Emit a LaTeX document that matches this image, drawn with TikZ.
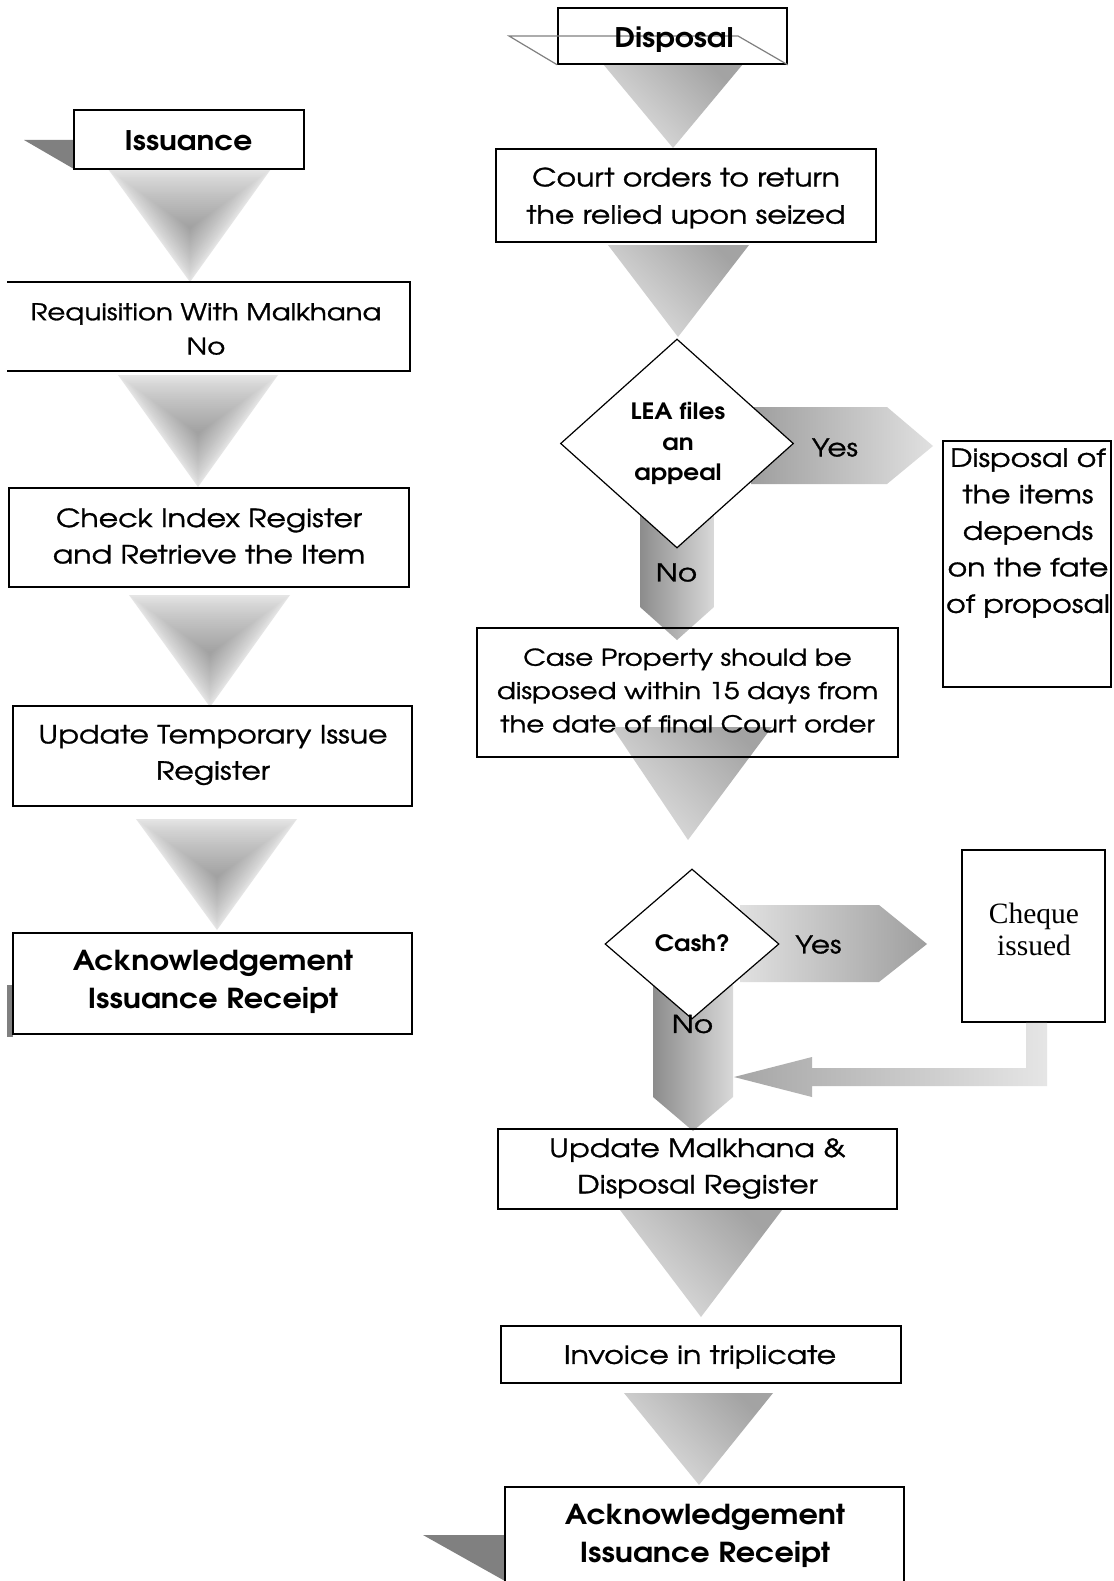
\documentclass[tikz,border=0pt]{standalone}
\usepackage{fontspec}
\setmainfont{texgyreadventor}[Extension=.otf, UprightFont=*-regular, BoldFont=*-bold, UprightFeatures={FakeStretch=1.2, FakeBold=1.2}, BoldFeatures={FakeStretch=1.1}]
\newfontfamily\tnr{Liberation Serif}
\usetikzlibrary{shapes.geometric}
\newcommand{\pathtri}[5]{%
  \pgfmathsetmacro\mycy{#3+0.52*(#5-#3)}%
  \foreach \i in {0,...,29}{%
    \pgfmathsetmacro\mysc{1-\i/30}%
    \pgfmathsetmacro\myval{10+27*(\i/30)^0.8}%
    \fill[black!\myval] ({#4+\mysc*(#1-#4)},{\mycy+\mysc*(#3-\mycy)}) -- ({#4+\mysc*(#2-#4)},{\mycy+\mysc*(#3-\mycy)}) -- ({#4},{\mycy+\mysc*(#5-\mycy)}) -- cycle;
  }}
\newcommand{\fs}[2]{\fontsize{#1}{#2}\selectfont}
\tikzset{
  box/.style={draw=black, line width=1.6pt, inner sep=0pt},
  txt/.style={align=center, inner sep=0pt},
  dec/.style={diamond, draw=black, line width=1.2pt, fill=white, inner sep=0pt},
  lintri/.style={shading=axis, top color=black!36, bottom color=black!12, shading angle=-45},
  lbl/.style={font=\fs{24.5}{30}, inner sep=0pt},
  shadowc/.style={fill=black!50}
}
\begin{document}
\begin{tikzpicture}[x=1pt,y=-1pt]
\useasboundingbox (0,0) rectangle (1113,1581);
\clip (0,0) rectangle (1113,1581);
\fill[white] (0,0) rectangle (1113,1581);

% ---------- left column ----------
\fill[shadowc] (24,140) -- (74,140) -- (74,169) -- cycle;
\fill[shadowc] (7,985) rectangle (13,1037);
\pathtri{108}{271}{169}{190}{282}
\pathtri{118}{278}{375}{198}{487}
\pathtri{129}{290}{595}{210}{707}
\pathtri{136}{297}{819}{217}{930}

\node[box, fill=white, minimum width=230, minimum height=59] (iss) at (189,139.5) {};
\node[txt, font=\fs{27}{30}\bfseries] (isst) at (188.5,141) {Issuance};
\node[box, draw=none, minimum width=401, minimum height=87] (req) at (208.5,326.5) {};
\draw[line width=1.6pt] (req.north west) -- (req.north east) -- (req.south east) -- (req.south west);
\node[txt, font=\fs{23}{34.3}] (reqt) at (206,329) {Requisition With Malkhana\\No};
\node[box, minimum width=400, minimum height=99] (chk) at (209,537.5) {};
\node[txt, font=\fs{25}{36.3}] (chkt) at (209,536) {Check Index Register\\and Retrieve the Item};
\node[box, minimum width=399, minimum height=100] (utmp) at (212.5,756) {};
\node[txt, font=\fs{25}{36.3}] (utmpt) at (213,755) {Update Temporary Issue\\Register};
\node[box, minimum width=399, minimum height=101] (ackl) at (212.5,983.5) {};
\node[txt, font=\fs{27.5}{37.3}\bfseries] (acklt) at (213,982) {Acknowledgement\\Issuance Receipt};

% ---------- right column ----------
\shade[lintri] (603,64) -- (743,64) -- (673,148) -- cycle;
\shade[lintri] (608,245) -- (749,245) -- (678,337) -- cycle;
\shade[lintri] (612,727) -- (772,727) -- (688,840) -- cycle;
\shade[lintri] (620,1210) -- (782,1210) -- (701,1317) -- cycle;
\shade[lintri] (624,1393) -- (773,1393) -- (699,1485) -- cycle;
\fill[shadowc] (423,1535) -- (505,1535) -- (505,1581) -- cycle;

% arrows
\shade[left color=black!38, right color=black!12] (751,407) -- (887,407) -- (933,446) -- (887,484) -- (751,484) -- cycle;
\shade[left color=black!45, right color=black!15] (640,495) -- (714,495) -- (714,607) -- (677,640) -- (640,607) -- cycle;
\shade[left color=black!12, right color=black!38] (740,905) -- (879,905) -- (927,944) -- (879,982) -- (740,982) -- cycle;
\shade[left color=black!45, right color=black!15] (653,985) -- (733,985) -- (733,1097) -- (693,1131) -- (653,1097) -- cycle;

\node[box, fill=white, minimum width=229, minimum height=56] (disp) at (672.5,36) {};
\draw[black!50, line width=1.2pt] (disp.south west) -- (509,36) -- (738,36) -- (disp.south east);
\node[txt, font=\fs{27}{30}\bfseries] (dispt) at (674,40) {Disposal};

\node[box, minimum width=380, minimum height=93] (court) at (686,195.5) {};
\node[txt, font=\fs{25}{37.3}] (courtt) at (686,198) {Court orders to return\\the relied upon seized};
\node[dec, minimum width=233, minimum height=209] (lea) at (677,443.5) {};
\node[txt, font=\fs{22.5}{30.2}\bfseries] (leat) at (678,443.5) {LEA files\\an\\appeal};
\node[lbl] (yes1) at (835,447.5) {Yes};
\node[lbl] (no1) at (676.5,572.5) {No};

\node[box, minimum width=168, minimum height=246] (items) at (1027,564) {};
\node[txt, font=\fs{25}{36.5}] (itemst) at (1028,533) {Disposal of\\the items\\depends\\on the fate\\of proposal};

\node[box, minimum width=421, minimum height=129] (case) at (687.5,692.5) {};
\node[txt, font=\fs{23}{33.3}] (caset) at (687.5,690.5) {Case Property should be\\disposed within 15 days from\\the date of final Court order};

\node[dec, minimum width=174, minimum height=150] (cash) at (692,944) {};
\node[txt, font=\fs{22.5}{30}\bfseries] (casht) at (692.5,943.5) {Cash?};
\node[lbl] (yes2) at (818.5,944.5) {Yes};
\node[lbl] (no2) at (692.5,1024) {No};

\node[box, minimum width=143, minimum height=172] (chq) at (1033.5,936) {};
\node[txt, font=\fs{29.5}{32.3}\tnr] (chqt) at (1034,929.5) {Cheque\\issued};
\shade[left color=black!35, right color=black!10] (chq.south -| 1047,0) -- (1047,1086) -- (812,1086) -- (812,1097) -- (734,1077) -- (812,1057) -- (812,1068) -- (1026,1068) -- (chq.south -| 1026,0) -- cycle;

\node[box, minimum width=399, minimum height=80] (malk) at (697.5,1169) {};
\node[txt, font=\fs{25}{36.3}] (malkt) at (697.5,1168.5) {Update Malkhana \&\\Disposal Register};
\node[box, minimum width=400, minimum height=57] (inv) at (701,1354.5) {};
\node[txt, font=\fs{25}{30}] (invt) at (700,1357) {Invoice in triplicate};
\node[box, fill=white, minimum width=399, minimum height=133] (ackr) at (704.5,1553.5) {};
\node[txt, font=\fs{27.5}{37.3}\bfseries] (ackrt) at (705,1536) {Acknowledgement\\Issuance Receipt};
\end{tikzpicture}
\end{document}
